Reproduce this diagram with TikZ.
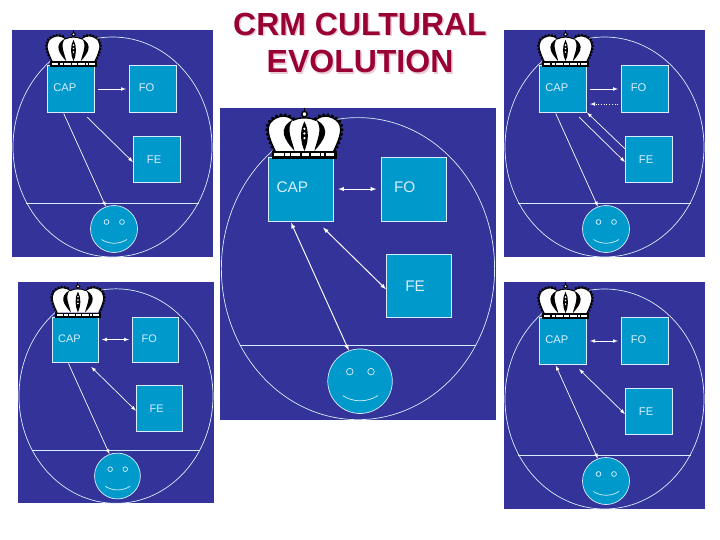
\documentclass[tikz,border=0pt]{standalone}
\usepackage{fontspec}
\setmainfont{Liberation Sans}
\usetikzlibrary{shapes.geometric}
\definecolor{panelblue}{HTML}{333399}
\definecolor{boxblue}{HTML}{0099CC}
\definecolor{rimblue}{HTML}{D8EEFF}
\definecolor{titlered}{HTML}{990033}
\definecolor{titleshade}{HTML}{E8CBD4}
\tikzset{
  rim/.style={draw=rimblue,line width=0.7pt},
  link/.style={white,line width=0.7pt*\ps},
  orbit/.style={ellipse,rim,inner sep=0pt,minimum width=199,minimum height=220},
  unitbox/.style={rectangle,rim,fill=boxblue,text=rimblue,inner sep=0pt,
    text width=47.5,minimum height=46.5,align=left,
    font=\fontsize{11.2}{13}\selectfont},
  face/.style={circle,rim,fill=boxblue,inner sep=0pt,minimum size=47},
  titletext/.style={align=center,font=\fontsize{32}{37.7}\selectfont\bfseries}
}
\newcommand{\crown}[1]{%
  \pgfmathsetmacro{\beadw}{2.6*#1}
  \pgfmathsetmacro{\beadgap}{3.2*#1}
  \pgfmathsetmacro{\linew}{1.0*#1}
  \begin{scope}[shift={(61.5,37)},scale=0.2428]
    \path[fill=white] (-88,-23) .. controls (-100,-50) and (-118,-85) .. (-103,-108)
      .. controls (-93,-122) and (-75,-128) .. (-63,-128)
      .. controls (-50,-128) and (-40,-122) .. (-33,-116)
      .. controls (-20,-122) and (-10,-123) .. (0,-123)
      .. controls (10,-123) and (20,-122) .. (33,-116)
      .. controls (40,-122) and (50,-128) .. (63,-128)
      .. controls (75,-128) and (93,-122) .. (103,-108)
      .. controls (118,-85) and (100,-50) .. (88,-23) -- cycle;
    \draw[black,line width=\linew pt] (-88,-23) .. controls (-100,-50) and (-118,-85) .. (-103,-108)
      .. controls (-93,-122) and (-75,-128) .. (-63,-128)
      .. controls (-50,-128) and (-40,-122) .. (-33,-116)
      .. controls (-20,-122) and (-10,-123) .. (0,-123)
      .. controls (10,-123) and (20,-122) .. (33,-116)
      .. controls (40,-122) and (50,-128) .. (63,-128)
      .. controls (75,-128) and (93,-122) .. (103,-108)
      .. controls (118,-85) and (100,-50) .. (88,-23);
    \foreach \side in {-1,1} {
      \draw[black,line width=\beadw pt,line cap=round,dash pattern=on 0.1pt off \beadgap pt]
        (\side*92,-23) .. controls (\side*104,-50) and (\side*122,-85) .. (\side*107,-110)
        .. controls (\side*97,-126) and (\side*75,-132) .. (\side*63,-132)
        .. controls (\side*50,-132) and (\side*40,-126) .. (\side*33,-120);
      \fill[black] (\side*30,-24) .. controls (\side*58,-55) and (\side*84,-90) .. (\side*34,-118)
        .. controls (\side*58,-90) and (\side*36,-55) .. (\side*30,-24) -- cycle;
    }
    \fill[black] (0,-112) .. controls (15,-85) and (12,-50) .. (0,-24)
      .. controls (-12,-50) and (-15,-85) .. (0,-112) -- cycle;
    \foreach \y in {-90,-76,-62} {
      \fill[white] (0,\y) circle (3.8);
    }
    \draw[black,line width=\linew pt] (0,-123) -- (0,-153);
    \draw[black,fill=white,line width=\linew pt] (0,-134) circle (8);
    \fill[black] (-97,-23) rectangle (97,0);
    \fill[white] (-90,-16) rectangle (90,-8);
    \foreach \x in {-62,-44,-12,14,46,60} {
      \fill[black] (\x,-16) rectangle (\x+5,-8);
    }
  \end{scope}
}
\newcommand{\panel}[7]{%
  \def\ps{#4}
  \begin{scope}[shift={(#2,#3)},scale=#4,transform shape]
    \fill[panelblue] (0,0) rectangle (201,227);
    \node (orbit#1) [orbit] at (100.5,117) {};
    \draw[rim] (orbit#1.-147) -- (orbit#1.-33);
    \node (cap#1) [unitbox] at (59,59) {\hspace*{6pt}\raisebox{2.4pt}{CAP}};
    \node (fo#1) [unitbox] at (141,59) {\hspace*{9.5pt}\raisebox{2.4pt}{FO}};
    \node (fe#1) [unitbox] at (145,129.5) {\hspace*{13.7pt}FE};
    \node (smile#1) [face] at (102,199) {};
    \draw[rim] (94.5,192) circle (2.4);
    \draw[rim] (110,192) circle (2.4);
    \draw[rim] (89.5,209.5) .. controls (97,214.5) and (107,214.5) .. (115,209.5);
    \crown{#4}
    \draw[link,#5,shorten <=3pt*\ps,shorten >=3pt*\ps] (cap#1.east) -- (fo#1.west);
    \draw[link,#6,shorten <=6.4pt*\ps] (cap#1.-64) -- (fe#1.-174);
    \draw[link,#7,shorten <=1pt*\ps] (cap#1.-108) -- (smile#1.110);
  \end{scope}
}
\begin{document}
\begin{tikzpicture}[x=1pt,y=-1pt,>=latex]
    \useasboundingbox (0,0) rectangle (720,540);
    \node (shade) [titletext,text=titleshade] at (361.5,44.5) {CRM CULTURAL\\EVOLUTION};
    \node (title) [titletext,text=titlered] at (360,43) {CRM CULTURAL\\EVOLUTION};
    \panel{a}{12}{30}{1}{->}{->}{->}
    \panel{b}{220}{108}{1.373}{<->}{<->}{<->}
    \panel{c}{504}{30}{1}{->}{->}{->}
    \panel{d}{18}{282}{0.975}{<->}{<->}{->}
    \panel{e}{504}{282}{1}{<->}{<->}{<->}
    \draw[link,->,dotted,shorten <=3pt,shorten >=3pt] (foc.-148) -- (capc.-32);
    \draw[link,->] (fec.156) -- (capc.south east);
\end{tikzpicture}
\end{document}
